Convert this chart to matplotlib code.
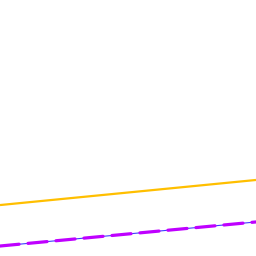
import matplotlib
matplotlib.use("Agg")
import matplotlib.pyplot as plt

x = [0, 10]
yellow = [19.9, 29.7]
blue = [3.9, 13.3]
purple = [3.9, 13.3]

fig = plt.figure(figsize=(2.56, 2.56), dpi=100)
ax = fig.add_axes([0, 0, 1, 1])
ax.plot(x, yellow, color="#FFBF00", lw=1.6, solid_capstyle="butt")
ax.plot(x, blue, color="#3D3DFF", lw=0.8)
ax.plot(x, purple, color="#BF00FF", lw=2.3, dashes=(6, 2.8), dash_capstyle="round")
ax.set_xlim(0, 10)
ax.set_ylim(0, 100)
ax.axis("off")
fig.savefig("out.png", dpi=100)
